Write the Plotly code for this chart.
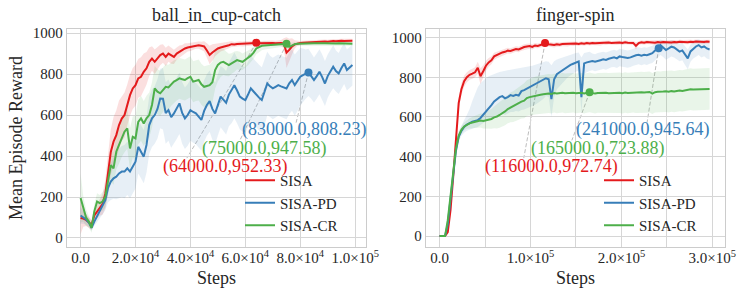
import numpy as np
import plotly.graph_objects as go

RED, BLUE, GREEN = "#e41a1c", "#377eb8", "#4daf4a"
FONT = "Liberation Serif"
TXT = "#262626"

# ---------------- data: ball_in_cup-catch (every 1000 steps) ----------------
steps_L = np.arange(100) * 1000
sisa_L = [98, 95, 88, 75, 65, 110, 130, 148, 165, 215,
          310, 420, 470, 502, 551, 583, 600, 649, 697, 730,
          746, 779, 787, 811, 828, 860, 876, 860, 876, 893,
          900, 884, 900, 890, 884, 900, 909, 917, 925, 930,
          933, 936, 941, 941, 938, 935, 915, 893, 905, 917,
          925, 930, 933, 938, 941, 946, 944, 947, 948, 947,
          950, 948, 950, 951, 952.33, 950, 951, 949, 950, 951,
          952, 951, 953, 952, 950, 905, 918, 935, 945, 950,
          952, 953, 954, 955, 955, 956, 957, 956, 958, 959,
          958, 960, 961, 960, 962, 963, 962, 963, 964, 963]
sisa_pd_L = [110, 100, 90, 75, 50, 80, 105, 128, 155, 185,
             245, 275, 291, 299, 315, 324, 324, 340, 324, 348,
             372, 445, 421, 397, 454, 551, 584, 600, 630, 681,
             680, 610, 624, 590, 608, 633, 657, 610, 584, 600,
             624, 615, 608, 592, 576, 620, 649, 668, 630, 608,
             650, 690, 675, 660, 700, 720, 745, 720, 690, 680,
             673, 700, 730, 715, 698, 685, 673, 710, 754, 740,
             730, 738, 746, 740, 735, 730, 755, 771, 746, 765,
             787, 795, 800, 808.23, 790, 771, 790, 811, 785, 754,
             790, 815, 836, 815, 803, 830, 852, 820, 830, 844]
sisa_cr_L = [195, 140, 100, 80, 50, 130, 178, 170, 178, 200,
             270, 356, 340, 421, 454, 486, 519, 535, 437, 494,
             486, 567, 584, 559, 584, 600, 649, 730, 714, 706,
             725, 738, 735, 750, 763, 771, 779, 775, 771, 780,
             787, 763, 768, 771, 750, 738, 742, 746, 760, 820,
             845, 856, 860, 850, 844, 852, 860, 868, 864, 860,
             870, 878, 890, 905, 925, 932, 938, 940, 941, 942,
             940, 942, 944, 945, 946, 947.58, 933, 940, 946, 948,
             949, 948, 950, 949, 950, 951, 950, 949, 950, 951,
             950, 949, 950, 949, 950, 949, 948, 949, 948, 948]
sisa_sd_L = [80, 40, 30, 25, 25, 30, 35, 40, 50, 70,
             90, 110, 120, 120, 120, 110, 110, 100, 100, 100,
             100, 95, 95, 90, 80, 70, 60, 60, 55, 50,
             45, 45, 40, 40, 35, 30, 30, 25, 25, 20,
             20, 20, 18, 18, 20, 25, 35, 45, 40, 30,
             25, 20, 18, 16, 15, 14, 13, 12, 12, 12,
             12, 12, 12, 12, 12, 12, 12, 12, 12, 12,
             12, 12, 12, 14, 25, 75, 55, 40, 20, 12,
             10, 10, 10, 10, 10, 10, 10, 10, 10, 10,
             10, 10, 10, 10, 10, 10, 10, 10, 10, 10]
sisa_pd_sd_L = [40, 30, 25, 20, 15, 20, 25, 30, 40, 50,
                70, 90, 100, 110, 120, 125, 130, 130, 130, 130,
                130, 130, 130, 130, 135, 140, 140, 140, 145, 145,
                150, 150, 150, 150, 150, 150, 150, 150, 150, 150,
                150, 150, 150, 150, 150, 150, 150, 150, 150, 150,
                150, 150, 155, 155, 155, 160, 160, 160, 160, 160,
                160, 160, 160, 160, 160, 160, 160, 160, 155, 150,
                150, 150, 150, 150, 150, 150, 150, 150, 150, 145,
                140, 130, 120, 115, 110, 110, 110, 110, 110, 110,
                105, 105, 105, 100, 100, 100, 100, 100, 100, 100]
sisa_cr_sd_L = [120, 60, 40, 30, 25, 35, 40, 40, 45, 50,
                60, 80, 80, 85, 90, 90, 100, 100, 100, 100,
                110, 110, 110, 110, 110, 110, 110, 110, 110, 110,
                110, 110, 110, 105, 105, 100, 100, 100, 100, 100,
                100, 100, 100, 100, 100, 100, 100, 100, 100, 90,
                80, 70, 65, 60, 55, 50, 50, 45, 45, 40,
                38, 35, 32, 30, 28, 25, 22, 20, 18, 16,
                15, 14, 13, 12, 12, 12, 20, 14, 10, 10,
                10, 10, 10, 10, 10, 10, 10, 10, 10, 10,
                10, 10, 10, 10, 10, 10, 10, 10, 10, 10]

# ---------------- data: finger-spin (every 3000 steps) ----------------
steps_R = np.arange(100) * 3000
sisa_R = [0, 0, 0, 20, 130, 300, 500, 670, 740, 780,
          800, 812, 818, 825, 848, 805, 830, 858, 875, 885,
          905, 912, 918, 925, 928, 934, 932, 938, 942, 940,
          948, 952, 955, 957, 953, 960, 958, 962, 966, 972,
          966, 964, 962, 966, 964, 967, 968, 966, 970, 968,
          970, 968, 971, 969, 972, 970, 973, 971, 972, 970,
          974, 972, 975, 973, 974, 972, 975, 973, 976, 974,
          975, 973, 958, 972, 976, 974, 977, 975, 976, 974,
          977, 975, 978, 976, 977, 975, 978, 976, 979, 977,
          978, 976, 979, 977, 980, 978, 979, 977, 980, 979]
sisa_pd_R = [0, 0, 0, 60, 170, 310, 430, 500, 530, 550,
             562, 570, 576, 580, 584, 595, 610, 626, 645, 660,
             678, 688, 700, 705, 694, 700, 710, 706, 712, 708,
             730, 735, 742, 750, 757, 765, 772, 778, 785, 795,
             790, 690, 790, 815, 825, 835, 845, 855, 862, 868,
             875, 880, 700, 870, 875, 880, 882, 878, 884, 886,
             890, 887, 893, 897, 900, 895, 905, 902, 899, 897,
             900, 906, 911, 913, 909, 913, 911, 916, 921, 935,
             946, 962, 950, 937, 945, 954, 950, 940, 929, 935,
             915, 895, 930, 945, 955, 962, 950, 955, 945, 940]
sisa_cr_R = [0, 0, 0, 80, 190, 320, 440, 505, 535, 552,
             562, 568, 572, 576, 578, 582, 580, 584, 586, 590,
             598, 602, 610, 618, 628, 640, 648, 652, 660, 668,
             677, 682, 695, 700, 704, 707, 710, 712, 714, 716,
             718, 716, 720, 718, 720, 722, 719, 721, 720, 722,
             719, 721, 722, 718, 721, 724, 720, 718, 721, 722,
             720, 722, 720, 721, 723, 721, 722, 720, 723, 721,
             722, 724, 722, 723, 725, 723, 724, 726, 718, 725,
             727, 726, 728, 729, 727, 730, 728, 731, 733, 731,
             734, 736, 740, 738, 739, 740, 738, 741, 740, 741]
sisa_sd_R = [0, 0, 0, 8, 15, 20, 25, 28, 30, 28,
             25, 25, 25, 25, 30, 40, 30, 25, 22, 20,
             18, 16, 15, 15, 14, 14, 14, 14, 14, 14,
             14, 14, 14, 13, 13, 13, 12, 12, 12, 14,
             12, 12, 12, 12, 11, 11, 11, 11, 11, 11,
             10, 10, 10, 10, 10, 10, 10, 10, 10, 10,
             10, 10, 10, 10, 10, 10, 10, 10, 10, 10,
             10, 10, 18, 10, 10, 10, 10, 10, 10, 10,
             10, 10, 10, 10, 10, 10, 10, 10, 10, 10,
             10, 10, 10, 10, 10, 10, 10, 10, 10, 10]
sisa_pd_hi_R = [0, 0, 0, 80, 195, 335, 455, 525, 560, 585,
                610, 640, 680, 720, 750, 770, 785, 795, 805, 812,
                818, 822, 826, 830, 832, 835, 838, 840, 842, 845,
                848, 850, 852, 855, 858, 862, 866, 870, 874, 880,
                878, 860, 880, 890, 895, 900, 905, 910, 914, 918,
                922, 925, 900, 922, 925, 928, 920, 916, 922, 924,
                928, 925, 931, 935, 938, 933, 943, 940, 937, 935,
                938, 944, 949, 951, 947, 951, 949, 954, 959, 968,
                978, 990, 985, 975, 980, 988, 985, 978, 968, 972,
                955, 940, 965, 978, 988, 992, 985, 988, 980, 975]
sisa_pd_lo_R = [0, 0, 0, 40, 145, 285, 405, 475, 505, 520,
                530, 535, 540, 545, 550, 560, 570, 580, 590, 598,
                605, 610, 615, 618, 610, 618, 625, 625, 630, 628,
                635, 638, 642, 648, 655, 662, 670, 678, 690, 705,
                700, 600, 700, 740, 755, 770, 785, 800, 810, 818,
                828, 835, 620, 818, 825, 832, 835, 830, 836, 838,
                842, 838, 845, 850, 852, 846, 856, 852, 850, 848,
                851, 858, 862, 865, 860, 865, 862, 868, 872, 885,
                898, 912, 902, 888, 896, 905, 900, 890, 880, 885,
                862, 840, 878, 895, 905, 912, 900, 906, 895, 890]
sisa_cr_sd_R = [0, 0, 0, 10, 15, 20, 20, 20, 20, 20,
                22, 25, 28, 30, 32, 35, 38, 40, 45, 50,
                55, 60, 65, 68, 70, 72, 75, 78, 80, 82,
                85, 88, 90, 92, 94, 95, 96, 96, 97, 97,
                98, 98, 98, 99, 99, 99, 100, 100, 100, 100,
                100, 100, 100, 100, 100, 100, 100, 100, 100, 100,
                101, 101, 101, 101, 101, 101, 102, 102, 102, 102,
                102, 102, 102, 102, 103, 103, 103, 103, 103, 103,
                103, 103, 104, 104, 104, 104, 104, 104, 104, 104,
                104, 104, 105, 105, 105, 105, 105, 105, 105, 105]

series_names = ["SISA", "SISA-PD", "SISA-CR"]
series_colors = [RED, BLUE, GREEN]
band_fills = ["rgba(228,26,28,0.14)", "rgba(55,126,184,0.12)", "rgba(77,175,74,0.12)"]

# highlighted points (x, y) per series
peak_x_L = [64000, 83000, 75000]
peak_y_L = [952.33, 808.23, 947.58]
peak_x_R = [116000, 241000, 165000]
peak_y_R = [972.74, 945.64, 723.88]

y_ticks = [0, 200, 400, 600, 800, 1000]
x_ticks_L = [0, 20000, 40000, 60000, 80000, 100000]
x_ticktext_L = ["0.0", "2.0×10<sup>4</sup>", "4.0×10<sup>4</sup>", "6.0×10<sup>4</sup>",
                "8.0×10<sup>4</sup>", "1.0×10<sup>5</sup>"]
x_ticks_R = [0, 100000, 200000, 300000]
x_ticktext_R = ["0.0", "1.0×10<sup>5</sup>", "2.0×10<sup>5</sup>", "3.0×10<sup>5</sup>"]

# layout positions for the labels (text centre) and the dashed leader ends
label_pos_L = [(52900, 349), (81400, 529), (67150, 439)]
leader_end_L = [(38700, 390), (78500, 563), (58000, 476)]
label_pos_R = [(122900, 350), (223300, 536), (174700, 441)]
leader_end_R = [(92600, 393), (228200, 571), (145500, 482)]

fig = go.Figure()


def add_band(x, lo, hi, fill, xa, ya):
    xs = list(x)
    fig.add_trace(go.Scatter(x=xs + xs[::-1], y=list(hi) + list(lo)[::-1], fill="toself",
                             fillcolor=fill, line=dict(width=0), mode="lines",
                             hoverinfo="skip", showlegend=False, xaxis=xa, yaxis=ya))


for mean, sd, fill in zip([sisa_L, sisa_pd_L, sisa_cr_L], [sisa_sd_L, sisa_pd_sd_L, sisa_cr_sd_L], band_fills):
    m, s = np.array(mean), np.array(sd)
    add_band(steps_L, m - s, m + s, fill, "x", "y")
add_band(steps_R, np.array(sisa_R) - np.array(sisa_sd_R), np.array(sisa_R) + np.array(sisa_sd_R), band_fills[0], "x2", "y2")
add_band(steps_R, sisa_pd_lo_R, sisa_pd_hi_R, band_fills[1], "x2", "y2")
add_band(steps_R, np.array(sisa_cr_R) - np.array(sisa_cr_sd_R), np.array(sisa_cr_R) + np.array(sisa_cr_sd_R), band_fills[2], "x2", "y2")

for name, col, yl in zip(series_names, series_colors, [sisa_L, sisa_pd_L, sisa_cr_L]):
    fig.add_trace(go.Scatter(x=steps_L, y=yl, mode="lines", name=name, line=dict(color=col, width=2),
                             legend="legend", xaxis="x", yaxis="y"))
for name, col, yr in zip(series_names, series_colors, [sisa_R, sisa_pd_R, sisa_cr_R]):
    fig.add_trace(go.Scatter(x=steps_R, y=yr, mode="lines", name=name, line=dict(color=col, width=2),
                             legend="legend2", xaxis="x2", yaxis="y2"))

shapes, annotations = [], []
for px_list, py_list, lpos, lend, xa, ya in [
        (peak_x_L, peak_y_L, label_pos_L, leader_end_L, "x", "y"),
        (peak_x_R, peak_y_R, label_pos_R, leader_end_R, "x2", "y2")]:
    for px, py, col, lp, le in zip(px_list, py_list, series_colors, lpos, lend):
        shapes.append(dict(type="line", xref=xa, yref=ya, x0=px, y0=py, x1=le[0], y1=le[1],
                           line=dict(color="#bdbdbd", width=1, dash="4px,2px"), layer="below"))
        annotations.append(dict(xref=xa, yref=ya, x=lp[0], y=lp[1], text=f"({px:.1f},{py:.2f})",
                                showarrow=False, xanchor="center", yanchor="middle",
                                font=dict(family=FONT, size=18, color=col)))
        fig.add_trace(go.Scatter(x=[px], y=[py], mode="markers", marker=dict(size=8, color=col),
                                 showlegend=False, xaxis=xa, yaxis=ya, hoverinfo="skip"))

for txt, xc in [("ball_in_cup-catch", 216.5 / 748), ("finger-spin", 575.5 / 748)]:
    annotations.append(dict(xref="paper", yref="paper", x=xc, y=1 - 15 / 299, text=txt, showarrow=False,
                            xanchor="center", yanchor="middle", font=dict(family=FONT, size=18, color=TXT)))
    annotations.append(dict(xref="paper", yref="paper", x=xc, y=1 - 278 / 299, text="Steps", showarrow=False,
                            xanchor="center", yanchor="middle", font=dict(family=FONT, size=18, color=TXT)))
annotations.append(dict(xref="paper", yref="paper", x=16 / 748, y=1 - 138 / 299, text="Mean Episode Reward",
                        textangle=-90, showarrow=False, xanchor="center", yanchor="middle",
                        font=dict(family=FONT, size=18, color=TXT)))

GRID = "#d6d6d6"
axis_common = dict(showgrid=True, gridcolor=GRID, gridwidth=1, showline=True, linecolor="#cccccc",
                   linewidth=1.3, mirror=True, zeroline=False, ticks="", automargin=False,
                   tickfont=dict(family=FONT, size=15, color=TXT))
ydom = [1 - 247 / 299, 1 - 29 / 299]

fig.update_layout(
    template="none",
    width=748, height=299, margin=dict(l=0, r=0, t=0, b=0, pad=0),
    paper_bgcolor="white", plot_bgcolor="white",
    font=dict(family=FONT, color=TXT, size=15),
    xaxis=dict(domain=[67 / 748, 366 / 748], range=[-4950, 103950], tickmode="array",
               tickvals=x_ticks_L, ticktext=x_ticktext_L, anchor="y", ticklabelstandoff=-3, **axis_common),
    yaxis=dict(domain=ydom, range=[-44, 1020], tickmode="array", tickvals=y_ticks, anchor="x", **axis_common),
    xaxis2=dict(domain=[426 / 748, 725 / 748], range=[-14950, 313950], tickmode="array",
                tickvals=x_ticks_R, ticktext=x_ticktext_R, anchor="y2", ticklabelstandoff=-3,
                minor=dict(tickvals=[50000, 150000, 250000], showgrid=True, gridcolor=GRID, gridwidth=1, ticks=""),
                **axis_common),
    yaxis2=dict(domain=ydom, range=[-55, 1043], tickmode="array", tickvals=y_ticks, anchor="x2", **axis_common),
    legend=dict(x=240 / 748, y=1 - 164 / 299, xanchor="left", yanchor="top", bgcolor="rgba(0,0,0,0)",
                font=dict(family=FONT, size=15, color=TXT), tracegroupgap=0),
    legend2=dict(x=599 / 748, y=1 - 164 / 299, xanchor="left", yanchor="top", bgcolor="rgba(0,0,0,0)",
                 font=dict(family=FONT, size=15, color=TXT), tracegroupgap=0),
    shapes=shapes, annotations=annotations, showlegend=True,
)

fig.write_html("out.html", post_script="document.body.style.margin='0';", config={"displayModeBar": False})
